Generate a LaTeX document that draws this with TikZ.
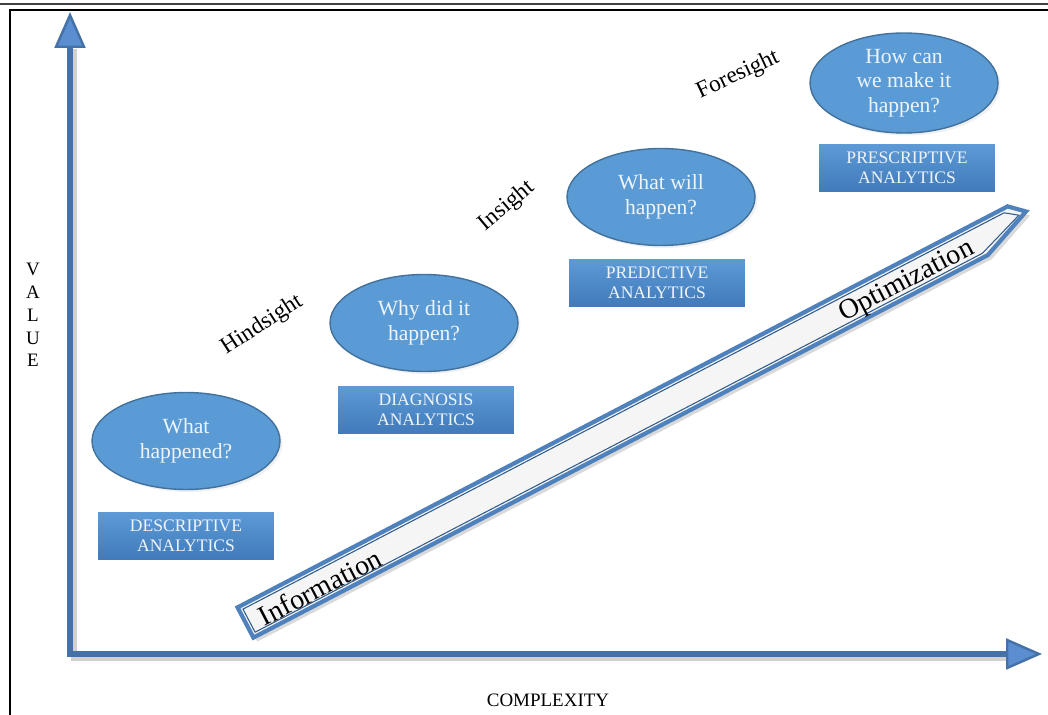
\documentclass[tikz,border=0pt]{standalone}
\usepackage{fontspec}
\setmainfont{Liberation Serif}
\usetikzlibrary{shapes.geometric,shadows,arrows.meta}
\definecolor{axisblue}{HTML}{4472A8}
\definecolor{axislight}{HTML}{5A8ED0}
\definecolor{ellblue}{HTML}{5B9BD5}
\definecolor{elledge}{HTML}{41719C}
\definecolor{boxtop}{HTML}{5E9CD8}
\definecolor{boxbot}{HTML}{4078B8}
\definecolor{bandblue}{HTML}{4F81BD}
\definecolor{banddark}{HTML}{2F5A8C}
\definecolor{shapetext}{HTML}{EEF4FA}
\tikzset{axtip/.tip={Triangle[length=0.72cm,width=0.62cm,fill=axislight,line width=1.4pt]}}
\begin{document}
\begin{tikzpicture}[x=0.02cm,y=-0.02cm,
 question/.style={ellipse, draw=elledge, line width=0.8pt, fill=ellblue, minimum width=3.76cm, minimum height=1.94cm, inner sep=0pt, align=center, text=shapetext, font=\fontsize{12.3}{14}\selectfont, drop shadow={opacity=0.12, shadow xshift=0.05cm, shadow yshift=-0.05cm}},
 stagebox/.style={rectangle, draw=white, line width=3pt, top color=boxtop, bottom color=boxbot, minimum width=3.64cm, minimum height=1.06cm, inner sep=0pt, align=center, text=shapetext, font=\fontsize{10}{11.5}\selectfont, drop shadow={opacity=0.25, shadow xshift=0.06cm, shadow yshift=-0.06cm}},
 sightlabel/.style={font=\fontsize{13.3}{15}\selectfont, inner sep=0pt},
 bandlabel/.style={font=\fontsize{16}{18}\selectfont, inner sep=0pt, rotate=27.5},
 axisline/.style={draw=axisblue, line width=3.4pt, line join=miter},
 plain/.style={font=\fontsize{10.8}{13}\selectfont, inner sep=0pt, align=center},
]
\useasboundingbox (0,0) rectangle (1048,715);
% frame
\draw[line width=0.6pt, black!75] (0,4) -- (1048,4);
\draw[line width=1.3pt] (9,10) -- (1048,10);
\draw[line width=1.3pt] (10,10) -- (10,715);

% axes
\coordinate (ytip) at (70,12);
\coordinate (origin) at (70,654);
\coordinate (xtip) at (1042,654);
\draw[black!18, line width=3.4pt, transform canvas={xshift=2pt,yshift=-2pt}] (70,45) -- (origin) -- (1004,654);
\draw[axisline, axtip-axtip] (ytip) -- (origin) -- (xtip);

% band arrow
\coordinate (tl) at (237.6,607.4);
\coordinate (te) at (1007.6,206.4);
\coordinate (tp) at (1026,211.5);
\coordinate (be) at (987.8,255.1);
\coordinate (bl) at (253.4,637.6);
\coordinate (tli) at (243.0,609.1);
\coordinate (tei) at (1004.1,212.8);
\coordinate (tpi) at (1018.9,215.2);
\coordinate (bei) at (982.4,253.3);
\coordinate (bli) at (255.1,632.2);
\path[draw=bandblue, line width=2.4pt, line join=miter, fill=black!4, drop shadow={opacity=0.3, shadow xshift=0.08cm, shadow yshift=-0.08cm}]
  (tl) -- (te) -- (tp) -- (be) -- (bl) -- cycle;
\draw[banddark, line width=0.6pt] (tli) -- (tei) -- (tpi) -- (bei) -- (bli) -- cycle;
\node[bandlabel] (info) at (320,587) {Information};
\node[bandlabel] (optim) at (907,282) {Optimization};

% questions and stages
\node[question] (q1) at (186,441) {What\\happened?};
\node[question] (q2) at (424,323) {Why did it\\happen?};
\node[question] (q3) at (661,197) {What will\\happen?};
\node[question, minimum height=2.0cm] (q4) at (904,83) {How can\\we make it\\happen?};
\node[stagebox] (b1) at (186,536) {DESCRIPTIVE\\ANALYTICS};
\node[stagebox] (b2) at (426,410) {DIAGNOSIS\\ANALYTICS};
\node[stagebox] (b3) at (657,283) {PREDICTIVE\\ANALYTICS};
\node[stagebox] (b4) at (907,168) {PRESCRIPTIVE\\ANALYTICS};

% sight labels
\node[sightlabel, rotate=33] (hind) at (262,325) {Hindsight};
\node[sightlabel, rotate=40] (ins) at (507,206) {Insight};
\node[sightlabel, rotate=25] (fore) at (738,75) {Foresight};

% axis labels
\node[plain] (value) at (33,315) {V\\A\\L\\U\\E};
\node[plain] (cplx) at (548,700) {COMPLEXITY};
\end{tikzpicture}
\end{document}
